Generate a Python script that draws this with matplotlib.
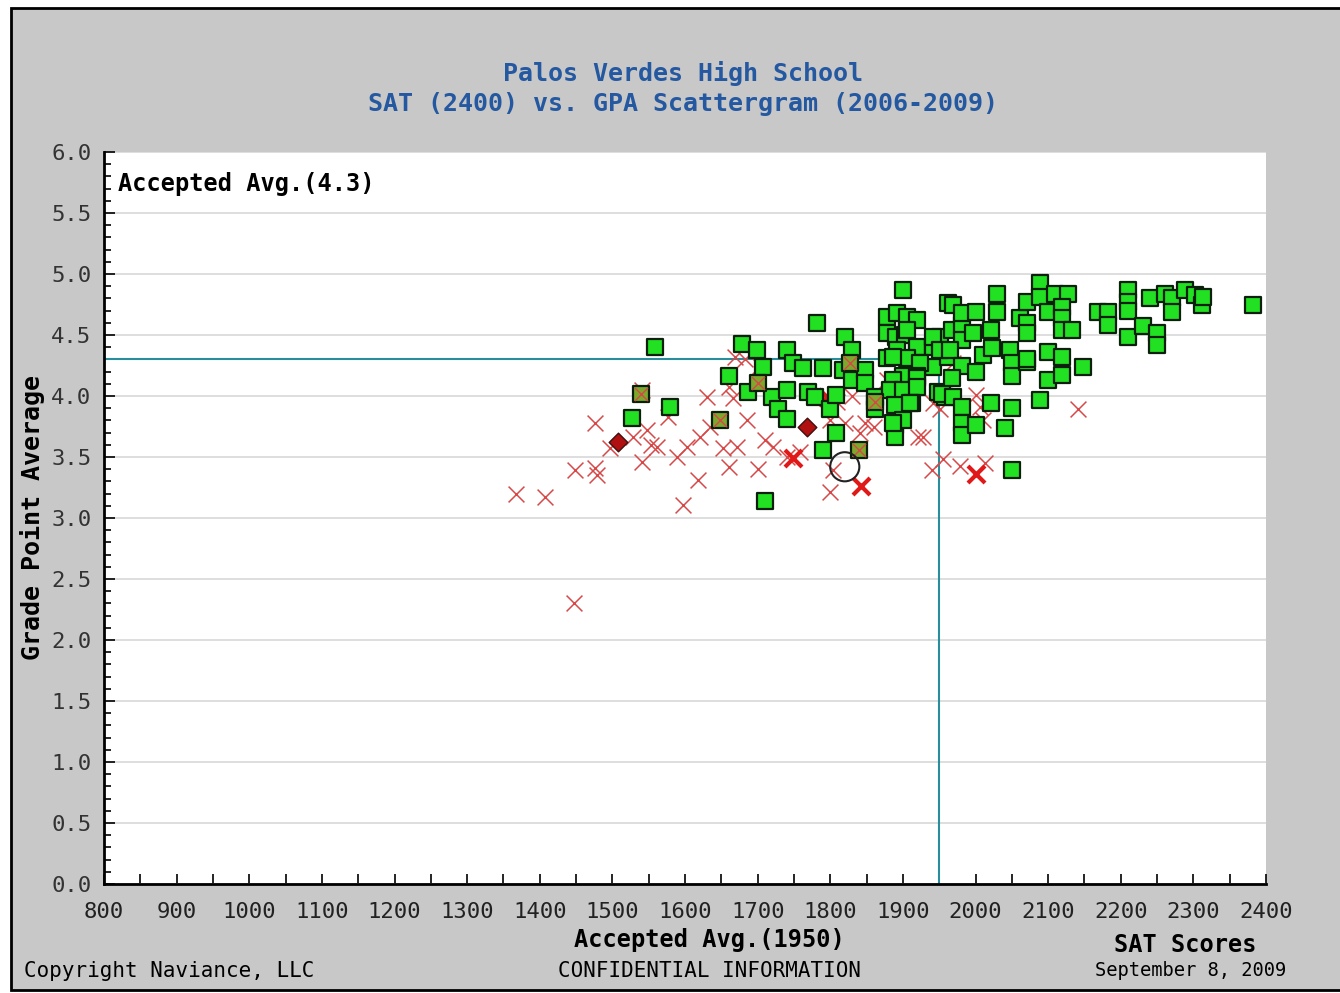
import matplotlib.pyplot as plt
from matplotlib.patches import Rectangle
from matplotlib.ticker import MultipleLocator

# SAT (2400) vs GPA scattergram - Palos Verdes High School

# accepted students (green squares)
accepted_sat = [1559, 1527, 1579, 1661, 1679, 1699, 1710, 1708, 1687, 1720,
                1740, 1728, 1740, 1740, 1749, 1763, 1782, 1790, 1769, 1779,
                1800, 1808, 1790, 1820, 1830, 1818, 1830, 1848, 1848, 1808,
                1862, 1862,
                1900, 1878, 1892, 1906, 1919, 1878, 1890, 1903, 1906, 1919,
                1919, 1941, 1951, 1941, 1962, 1969, 1878, 1892, 1906, 1887,
                1941, 1962, 1924, 1951, 1900, 1919, 1887, 1919, 1882, 1900,
                1919, 1889, 1913, 1948, 1958, 1954, 1889, 1900, 1889, 1887,
                1910,
                1968, 1981, 1981, 1997, 1965, 2010, 1981, 2000, 2023, 1968,
                1969, 1982, 1981, 1981, 2021, 2000, 2041, 2050, 2050, 1982,
                2000, 2030, 2030, 2021, 2048, 2050, 2050, 2071,
                2061, 2071, 2071, 2071, 2089, 2089, 2110, 2127, 2100, 2119,
                2119, 2119, 2133, 2100, 2119, 2100, 2119, 2148, 2089, 2071,
                2168, 2183, 2183, 2210, 2210, 2210, 2240, 2261, 2270, 2270,
                2288, 2302, 2312, 2313, 2210, 2231, 2250, 2250, 2382]
accepted_gpa = [4.40, 3.82, 3.91, 4.16, 4.43, 4.38, 3.14, 4.24, 4.03, 3.99,
                4.05, 3.89, 3.81, 4.38, 4.27, 4.23, 4.60, 4.23, 4.03, 3.99,
                3.89, 3.70, 3.56, 4.48, 4.38, 4.21, 4.13, 4.21, 4.11, 4.01,
                3.99, 3.89,
                4.87, 4.65, 4.68, 4.65, 4.62, 4.52, 4.48, 4.50, 4.54, 4.36,
                4.40, 4.40, 4.48, 4.48, 4.76, 4.75, 4.31, 4.38, 4.31, 4.32,
                4.24, 4.32, 4.27, 4.38, 4.16, 4.16, 4.13, 4.15, 4.05, 4.05,
                4.07, 3.93, 3.94, 4.03, 3.99, 4.02, 3.76, 3.80, 3.66, 3.78,
                3.94,
                4.54, 4.58, 4.46, 4.52, 4.38, 4.34, 4.25, 4.20, 4.39, 4.15,
                3.99, 3.91, 3.78, 3.68, 3.94, 3.76, 3.74, 3.90, 3.39, 4.68,
                4.69, 4.84, 4.69, 4.54, 4.38, 4.27, 4.16, 4.28,
                4.64, 4.60, 4.52, 4.77, 4.93, 4.81, 4.84, 4.84, 4.69, 4.73,
                4.64, 4.54, 4.54, 4.36, 4.32, 4.13, 4.17, 4.24, 3.97, 4.30,
                4.69, 4.69, 4.58, 4.87, 4.77, 4.70, 4.80, 4.84, 4.80, 4.69,
                4.87, 4.83, 4.75, 4.81, 4.48, 4.57, 4.52, 4.42, 4.75]

# accepted but also overlapped by denied marks (olive squares)
mixed_sat = [1539, 1648, 1839, 1700, 1827, 1862]
mixed_gpa = [4.02, 3.80, 3.56, 4.11, 4.27, 3.95]

# denied students (red x)
denied_sat = [1367, 1407, 1447, 1449, 1476, 1476, 1479, 1497, 1528, 1548,
              1561, 1541, 1541, 1589, 1603, 1621, 1634, 1630, 1618, 1597,
              1577, 1652, 1671, 1660, 1660, 1669, 1683, 1666, 1685, 1710,
              1721, 1703, 1740, 1758, 1809, 1820, 1830, 1841, 1848, 1804,
              1800, 1800, 1860, 1878, 1890, 1921, 1928, 1940, 1941, 1951,
              1955, 1979, 2013, 2000, 2010, 2006, 1969, 2141, 1553, 1700]
denied_gpa = [3.20, 3.17, 2.30, 3.39, 3.78, 3.41, 3.35, 3.57, 3.66, 3.72,
              3.58, 3.46, 4.05, 3.50, 3.58, 3.66, 3.75, 3.99, 3.31, 3.11,
              3.83, 3.57, 3.58, 3.42, 4.07, 4.32, 4.30, 3.98, 3.80, 3.64,
              3.58, 4.25, 3.50, 3.54, 3.95, 3.78, 4.00, 3.70, 3.78, 3.39,
              3.21, 3.80, 3.75, 4.13, 4.05, 3.66, 3.66, 3.39, 3.94, 3.89,
              3.48, 3.43, 3.45, 4.01, 3.80, 3.91, 4.27, 3.89, 3.60, 3.40]

# several denied at the same spot (bold x)
bold_sat = [1842, 2000, 1749, 1795]
bold_gpa = [3.26, 3.36, 3.49, 3.99]

# waitlisted (dark red diamonds)
wait_sat = [1508, 1768]
wait_gpa = [3.62, 3.75]

# the student's own position
you_sat = [1820]
you_gpa = [3.42]

avg_sat = 1950
avg_gpa = 4.3

mono = 'DejaVu Sans Mono'
title_blue = '#2458a0'

fig = plt.figure(figsize=(13.4, 9.93), dpi=100)
fig.patch.set_facecolor('white')
fig.patches.append(Rectangle((10.5 / 1340, 3 / 993), 1.1, 982 / 993,
                             transform=fig.transFigure, facecolor='#c8c8c8',
                             edgecolor='black', linewidth=2, zorder=-5))

ax = fig.add_axes([104 / 1340, 1 - 884 / 993, 1162 / 1340, 732 / 993])
ax.set_zorder(2)
ax.set_facecolor('white')
ax.set_xlim(800, 2400)
ax.set_ylim(0, 6)

ax.yaxis.set_major_locator(MultipleLocator(0.5))
ax.yaxis.set_minor_locator(MultipleLocator(0.1))
ax.xaxis.set_major_locator(MultipleLocator(100))
ax.xaxis.set_minor_locator(MultipleLocator(50))
ax.grid(axis='y', which='major', color='#d8d8d8', linewidth=1.2)
ax.set_axisbelow(True)

ax.tick_params(axis='both', which='both', direction='in', color='black',
               width=1.2)
ax.tick_params(axis='y', which='major', length=8, pad=9, labelsize=16,
               labelcolor='#333333')
ax.tick_params(axis='y', which='minor', length=5)
ax.tick_params(axis='x', which='both', length=7, pad=13, labelsize=16,
               labelcolor='#222222')
yt = [i * 0.5 for i in range(13)]
ax.set_yticks(yt)
ax.set_yticklabels([f'{v:.1f}' for v in yt], family=mono)
xt = list(range(800, 2401, 100))
ax.set_xticks(xt)
ax.set_xticklabels([str(v) for v in xt], family=mono)

for side in ['top', 'right']:
    ax.spines[side].set_visible(False)
for side in ['left', 'bottom']:
    ax.spines[side].set_linewidth(2)
    ax.spines[side].set_color('black')

# accepted averages
ax.plot([800, avg_sat], [avg_gpa, avg_gpa], color='#2a8d9c', linewidth=1.5,
        zorder=2)
ax.plot([avg_sat, avg_sat], [0, avg_gpa], color='#2a8d9c', linewidth=1.5,
        zorder=2)

ax.scatter(denied_sat, denied_gpa, marker='x', s=130, color='#d84848',
           linewidths=1.1, zorder=3)
ax.scatter(bold_sat, bold_gpa, marker='x', s=150, color='#e01818',
           linewidths=3, zorder=3)
ax.scatter(accepted_sat, accepted_gpa, marker='s', s=130, color='#22e022',
           edgecolors='#0a200a', linewidths=1.6, zorder=4)
ax.scatter(mixed_sat, mixed_gpa, marker='s', s=130, color='#7ea82c',
           edgecolors='#0a200a', linewidths=1.6, zorder=4)
ax.scatter(mixed_sat, mixed_gpa, marker='x', s=90, color='#d84848',
           linewidths=1, zorder=5)
ax.scatter(wait_sat, wait_gpa, marker='D', s=90, color='#b01010',
           edgecolors='#401010', linewidths=1, zorder=5)
ax.scatter(you_sat, you_gpa, marker='o', s=440, facecolors='none',
           edgecolors='#222222', linewidths=1.5, zorder=6)

ax.text(0.012, 0.956, 'Accepted Avg.(4.3)', transform=ax.transAxes,
        family=mono, fontsize=17, fontweight='bold', color='black',
        va='center', ha='left')

fig.text(683 / 1340, 1 - 74 / 993, 'Palos Verdes High School', family=mono,
         fontsize=18, color=title_blue, ha='center', va='center',
         fontweight='bold')
fig.text(683 / 1340, 1 - 104 / 993,
         'SAT (2400) vs. GPA Scattergram (2006-2009)', family=mono,
         fontsize=18, color=title_blue, ha='center', va='center',
         fontweight='bold')

fig.text(33 / 1340, 1 - 518 / 993, 'Grade Point Average', family=mono,
         fontsize=18, fontweight='bold', rotation=90, ha='center',
         va='center')
fig.text(709 / 1340, 1 - 940 / 993, 'Accepted Avg.(1950)', family=mono,
         fontsize=17, fontweight='bold', ha='center', va='center')
fig.text(1185 / 1340, 1 - 945 / 993, 'SAT Scores', family=mono,
         fontsize=17, fontweight='bold', ha='center', va='center')

fig.text(24 / 1340, 1 - 971 / 993, 'Copyright Naviance, LLC', family=mono,
         fontsize=15, ha='left', va='center')
fig.text(709 / 1340, 1 - 971 / 993, 'CONFIDENTIAL INFORMATION', family=mono,
         fontsize=15, ha='center', va='center')
fig.text(1286 / 1340, 1 - 971 / 993, 'September 8, 2009', family=mono,
         fontsize=13.5, ha='right', va='center')

fig.savefig('out.png', dpi=100)
